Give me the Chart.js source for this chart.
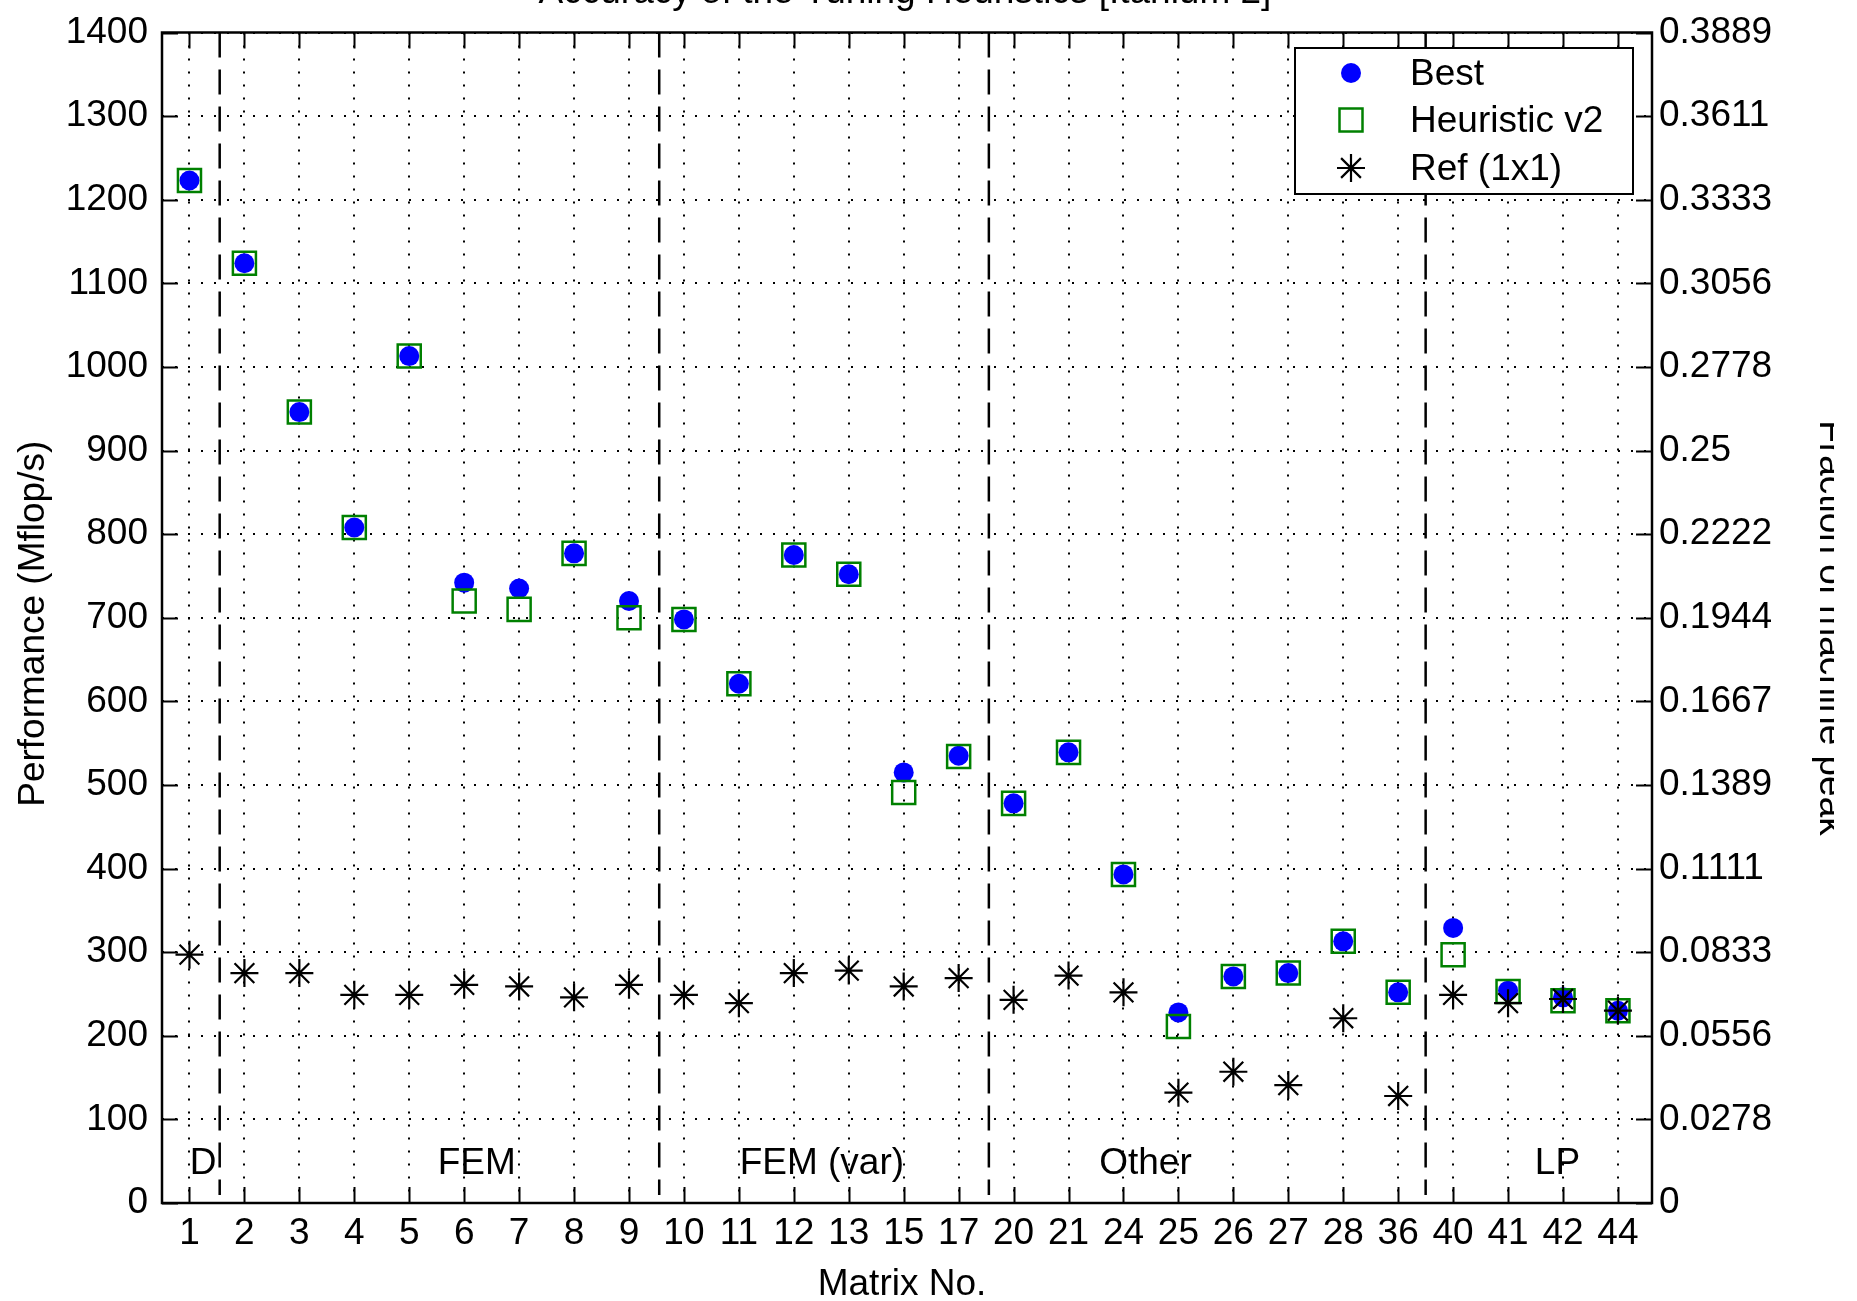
<!DOCTYPE html>
<html>
<head>
<meta charset="utf-8">
<script src="https://cdn.jsdelivr.net/npm/chart.js@4.4.1/dist/chart.umd.min.js"></script>
<style>
  html, body { margin: 0; padding: 0; background: #fff; }
  #wrap { width: 1857px; height: 1301px; }
</style>
</head>
<body>
<div id="wrap"><canvas id="perfChart" width="1857" height="1301"></canvas></div>
<script>
// matrix numbers along the x axis
const matrixLabels = ['1', '2', '3', '4', '5', '6', '7', '8', '9', '10', '11', '12', '13', '15',
    '17', '20', '21', '24', '25', '26', '27', '28', '36', '40', '41', '42', '44'];

// Mflop/s
const bestMflops = [1223, 1124, 946, 808, 1013, 742, 735, 777, 720, 698, 621, 775, 752, 515,
    535, 478, 539, 393, 228, 271, 275, 313, 252, 329, 254, 246, 230];
const heuristicMflops = [1223, 1124, 946, 808, 1013, 720, 710, 777, 700, 698, 621, 775, 752, 491,
    534, 478, 539, 393, 211, 271, 275, 313, 252, 297, 253, 242, 230];
const refMflops = [297, 275, 275, 249, 249, 261, 259, 246, 261, 249, 239, 275, 278, 259,
    269, 243, 272, 252, 132, 157, 141, 221, 128, 249, 239, 244, 230];

const fractionTickLabels = ['0', '0.0278', '0.0556', '0.0833', '0.1111', '0.1389', '0.1667', '0.1944',
    '0.2222', '0.25', '0.2778', '0.3056', '0.3333', '0.3611', '0.3889'];

// matrix groups (in matrix-index units)
const groupNames = ['D', 'FEM', 'FEM (var)', 'Other', 'LP'];
const groupCenters = [1.25, 6.23, 12.51, 18.4, 25.9];
const groupSeparators = [1.55, 9.55, 15.55, 23.5];

const FONT = '"Liberation Sans", Arial, sans-serif';
const FONT_SIZE = 37;

const toPoints = arr => arr.map((v, i) => ({ x: i + 1, y: v }));

const decorPlugin = {
    id: 'decor',
    beforeDatasetsDraw(chart) {
        const { ctx, chartArea: a, scales: { x, y } } = chart;
        ctx.save();
        // group separators
        ctx.strokeStyle = '#000';
        ctx.lineWidth = 2.5;
        ctx.setLineDash([25, 12]);
        groupSeparators.forEach(s => {
            const px = x.getPixelForValue(s);
            ctx.beginPath();
            ctx.moveTo(px, a.top);
            ctx.lineTo(px, a.bottom - 8);
            ctx.stroke();
        });
        ctx.setLineDash([]);
        // group names
        ctx.fillStyle = '#000';
        ctx.font = `${FONT_SIZE}px ${FONT}`;
        ctx.textAlign = 'center';
        ctx.textBaseline = 'middle';
        groupNames.forEach((n, i) => {
            ctx.fillText(n, x.getPixelForValue(groupCenters[i]), y.getPixelForValue(47));
        });
        ctx.restore();
    },
    afterDatasetsDraw(chart) {
        const { ctx, chartArea: a, scales: { x, y } } = chart;
        ctx.save();
        // tick marks pointing inwards
        ctx.strokeStyle = '#000';
        ctx.lineWidth = 2;
        ctx.beginPath();
        x.ticks.forEach(t => {
            const px = Math.round(x.getPixelForValue(t.value)) + 0.5;
            ctx.moveTo(px, a.bottom); ctx.lineTo(px, a.bottom - 16);
            ctx.moveTo(px, a.top); ctx.lineTo(px, a.top + 16);
        });
        y.ticks.forEach(t => {
            const py = Math.round(y.getPixelForValue(t.value)) + 0.5;
            ctx.moveTo(a.left, py); ctx.lineTo(a.left + 16, py);
            ctx.moveTo(a.right, py); ctx.lineTo(a.right - 16, py);
        });
        ctx.stroke();
        // frame
        ctx.lineWidth = 2.5;
        ctx.strokeRect(a.left, a.top, a.right - a.left, a.bottom - a.top);

        // legend
        const lx = 1295, ly = 48, lw = 338, lh = 146;
        ctx.fillStyle = '#fff';
        ctx.fillRect(lx, ly, lw, lh);
        ctx.lineWidth = 2;
        ctx.strokeStyle = '#000';
        ctx.strokeRect(lx, ly, lw, lh);
        const mx = 1351;
        const rows = [73, 120, 168];
        // Best
        ctx.fillStyle = '#0000ff';
        ctx.beginPath();
        ctx.arc(mx, rows[0], 10, 0, Math.PI * 2);
        ctx.fill();
        // Heuristic
        ctx.strokeStyle = '#008000';
        ctx.lineWidth = 2.5;
        ctx.strokeRect(mx - 11.5, rows[1] - 11.5, 23, 23);
        // Ref
        ctx.strokeStyle = '#000';
        ctx.lineWidth = 2.2;
        ctx.beginPath();
        const r = 14, d = r * Math.SQRT1_2;
        ctx.moveTo(mx - r, rows[2]); ctx.lineTo(mx + r, rows[2]);
        ctx.moveTo(mx, rows[2] - r); ctx.lineTo(mx, rows[2] + r);
        ctx.moveTo(mx - d, rows[2] - d); ctx.lineTo(mx + d, rows[2] + d);
        ctx.moveTo(mx - d, rows[2] + d); ctx.lineTo(mx + d, rows[2] - d);
        ctx.stroke();
        ctx.fillStyle = '#000';
        ctx.font = `${FONT_SIZE}px ${FONT}`;
        ctx.textAlign = 'left';
        ctx.textBaseline = 'middle';
        chart.data.datasets.forEach((ds, i) => ctx.fillText(ds.label, 1410, rows[i] + 2));

        // titles
        ctx.textAlign = 'center';
        ctx.textBaseline = 'alphabetic';
        ctx.fillText('Accuracy of the Tuning Heuristics [Itanium 2]', 905, 3);
        ctx.fillText('Matrix No.', 902, 1295);

        ctx.save();
        ctx.translate(44, (a.top + a.bottom) / 2 + 6);
        ctx.rotate(-Math.PI / 2);
        ctx.fillText('Performance (Mflop/s)', 0, 0);
        ctx.restore();

        ctx.save();
        ctx.beginPath();
        ctx.rect(0, 0, 1834, 1301);
        ctx.clip();
        ctx.translate(1820, 628);
        ctx.rotate(Math.PI / 2);
        ctx.fillText('Fraction of machine peak', 0, 0);
        ctx.restore();

        ctx.restore();
    }
};

const tickFont = { family: FONT, size: FONT_SIZE, lineHeight: 1 };

new Chart(document.getElementById('perfChart'), {
    type: 'scatter',
    data: {
        datasets: [
            {
                label: 'Best',
                data: toPoints(bestMflops),
                pointStyle: 'circle',
                pointRadius: 10,
                pointBackgroundColor: '#0000ff',
                pointBorderColor: '#0000ff',
                pointBorderWidth: 0,
                order: 3
            },
            {
                label: 'Heuristic v2',
                data: toPoints(heuristicMflops),
                pointStyle: 'rect',
                pointRadius: 16.3,
                pointBackgroundColor: 'rgba(0,0,0,0)',
                pointBorderColor: '#008000',
                pointBorderWidth: 2.5,
                order: 2
            },
            {
                label: 'Ref (1x1)',
                data: toPoints(refMflops),
                pointStyle: 'star',
                pointRadius: 14,
                pointBorderColor: '#000',
                pointBorderWidth: 2.2,
                order: 1
            }
        ]
    },
    options: {
        responsive: false,
        animation: false,
        devicePixelRatio: 1,
        events: [],
        layout: { padding: { top: 30, left: 0, right: 0, bottom: 0 } },
        plugins: {
            legend: { display: false },
            tooltip: { enabled: false },
            title: { display: false }
        },
        scales: {
            x: {
                type: 'linear',
                position: 'bottom',
                min: 0.5,
                max: 27.62,
                ticks: {
                    stepSize: 1,
                    includeBounds: false,
                    autoSkip: false,
                    maxRotation: 0,
                    padding: 12,
                    color: '#000',
                    font: tickFont,
                    callback: v => matrixLabels[Math.round(v) - 1] || ''
                },
                grid: { color: '#000', lineWidth: 2, drawTicks: false },
                border: { display: false, dash: [2, 11] },
                afterFit: s => { s.height = 98; }
            },
            y: {
                position: 'left',
                min: 0,
                max: 1400,
                ticks: {
                    stepSize: 100,
                    padding: 14,
                    color: '#000',
                    font: tickFont,
                    callback: v => String(v)
                },
                grid: { color: '#000', lineWidth: 2, drawTicks: false },
                border: { display: false, dash: [2, 11] },
                afterFit: s => { s.width = 162; }
            },
            y2: {
                position: 'right',
                min: 0,
                max: 1400,
                ticks: {
                    stepSize: 100,
                    padding: 7,
                    color: '#000',
                    font: tickFont,
                    callback: (v, i) => fractionTickLabels[i]
                },
                grid: { display: false, drawTicks: false },
                border: { display: false },
                afterFit: s => { s.width = 205; }
            }
        }
    },
    plugins: [decorPlugin]
});
</script>
</body>
</html>
